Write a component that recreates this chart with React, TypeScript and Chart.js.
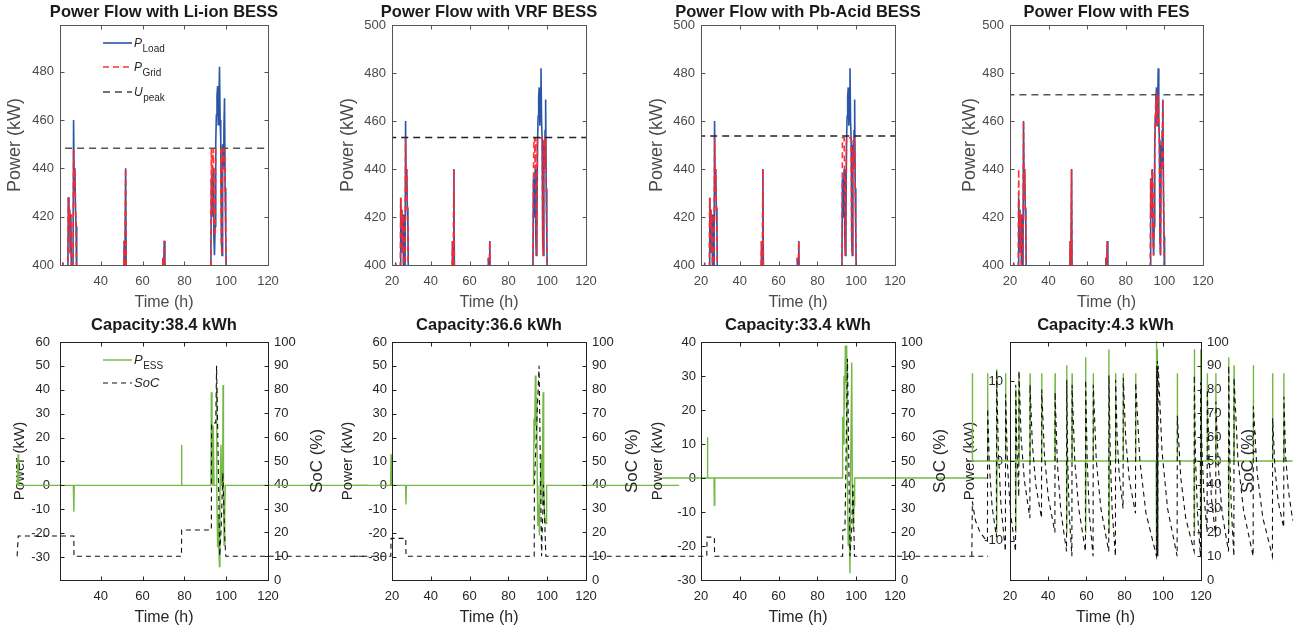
import React, { useEffect, useRef } from "react";
import { Chart, registerables } from "chart.js";

Chart.register(...registerables);

const W = 1304;
const H = 632;
const FONT = '"Liberation Sans", Arial, Helvetica, sans-serif';

// ---------------- DATA ----------------
// Load profile (shared by the four top panels), time in hours, power in kW
const loadTime = [
  0, 21.7, 21.9, 22.1,
  24.2, 24.5, 24.8, 25.1, 25.4, 25.7, 26.0,
  26.7, 27.0, 27.3, 27.6, 27.9, 28.2, 28.5,
  50.9, 51.2, 51.5, 51.9, 52.2,
  69.4, 69.7, 70.0, 70.4, 70.7,
  92.6, 92.9, 93.2, 93.5, 93.8, 94.1, 94.4, 94.7, 95.0, 95.3, 95.6, 95.9, 96.2, 96.5, 96.8, 97.1, 97.4, 97.7, 98.0, 98.3, 98.6, 98.9, 99.2, 99.5, 99.8, 100.1,
  168,
];
const loadPower = [
  390, 390, 401, 390,
  390, 428, 416, 423, 405, 421, 390,
  390, 460, 430, 440, 424, 416, 390,
  390, 410, 395, 440, 390,
  390, 403, 395, 410, 390,
  390, 436, 420, 432, 440, 412, 404, 416, 450, 462, 470, 474, 458, 466, 482, 460, 452, 410, 404, 450, 440, 456, 469, 432, 412, 390,
  390,
];
const gridLiIon = [
  390, 390, 401, 390,
  390, 428, 416, 423, 405, 421, 390,
  390, 448, 430, 440, 424, 416, 390,
  390, 410, 395, 440, 390,
  390, 403, 395, 410, 390,
  390, 448, 420, 440, 448, 416, 412, 416, 448, 448, 448, 448, 448, 448, 448, 448, 448, 410, 404, 448, 440, 448, 448, 432, 412, 390,
  390,
];
const gridVRF = [
  390, 390, 401, 390,
  390, 428, 416, 423, 405, 421, 390,
  390, 453, 430, 440, 424, 416, 390,
  390, 410, 395, 440, 390,
  390, 403, 395, 410, 390,
  390, 436, 453, 453, 440, 453, 404, 416, 453, 453, 453, 453, 453, 453, 453, 453, 452, 410, 404, 453, 440, 453, 453, 432, 412, 390,
  390,
];
const gridPbAcid = [
  390, 390, 401, 390,
  390, 428, 416, 423, 405, 421, 390,
  390, 453, 430, 440, 424, 416, 390,
  390, 410, 395, 440, 390,
  390, 403, 395, 410, 390,
  390, 453, 453, 453, 453, 430, 404, 416, 453, 453, 453, 453, 453, 453, 453, 453, 452, 410, 404, 448, 440, 453, 450, 432, 412, 390,
  390,
];
const gridFES = [
  390, 390, 401, 390,
  390, 440, 416, 423, 405, 421, 390,
  390, 460, 430, 440, 424, 416, 390,
  390, 410, 395, 440, 390,
  390, 403, 395, 410, 390,
  390, 436, 420, 440, 440, 412, 404, 416, 450, 462, 470, 471, 458, 466, 471, 460, 452, 410, 404, 441, 440, 456, 469, 432, 412, 390,
  390,
];
const peakTime = [0, 168];
const peakLiIon = [448.3, 448.3];
const peakVRF = [453.1, 453.1];
const peakPbAcid = [453.7, 453.7];
const peakFES = [470.9, 470.9];

// ESS power (kW) and state of charge (%) as [time h, value]
const essLiIon: [number, number][] = [
  [0, 0], [0.4, 0], [0.5, 13], [0.7, 0], [26.9, 0], [27.1, -11], [27.3, 0], [78.4, 0], [78.6, 17], [78.8, 0],
  [92.7, 0], [92.9, 39], [93.2, 24], [93.5, 0], [93.8, 25], [94.2, 0], [95.2, 0], [95.4, 41], [95.6, 0], [95.9, -26],
  [96.2, -12], [96.5, -26], [96.8, -34], [97.0, -5], [97.5, 17], [97.8, 0], [98.3, 0], [98.5, 42], [98.7, 0], [99.0, -25],
  [99.3, -10], [99.6, 0], [168, 0],
];
const socLiIon: [number, number][] = [
  [0, 10], [0.5, 18.5], [27.1, 18.5], [27.2, 10], [78.6, 10], [78.7, 21], [92.9, 21], [93.0, 66], [95.0, 66], [95.4, 90],
  [96.0, 60], [96.9, 10], [97.6, 22], [98.4, 45], [99.3, 18], [99.8, 10], [168, 10],
];
const essVRF: [number, number][] = [
  [0, 0], [19.3, 0], [19.5, 13], [19.7, 0], [27.0, 0], [27.2, -8], [27.4, 0],
  [93.0, 0], [93.2, 28], [93.5, 18], [93.9, 46], [94.2, 25], [94.6, 37], [94.9, 0], [95.2, -17], [95.6, -8], [96.0, -21],
  [96.4, 0], [97.0, 13], [97.4, -8], [97.9, 39], [98.2, 0], [98.6, -12], [99.0, -16], [99.4, -16], [99.7, 0], [168, 0],
];
const socVRF: [number, number][] = [
  [0, 10], [19.4, 10], [19.5, 17.5], [27.1, 17.5], [27.2, 10], [93.3, 10], [93.4, 40], [95.8, 90], [97.1, 10], [98.1, 40],
  [99.3, 10], [168, 10],
];
const essPbAcid: [number, number][] = [
  [0, 0], [23.1, 0], [23.3, 12], [23.5, 0], [26.7, 0], [26.9, -8], [27.1, 0],
  [92.8, 0], [93.0, 18], [93.3, 10], [93.7, 30], [94.0, 20], [94.4, 39], [94.7, 28], [95.1, 39], [95.4, 0], [95.9, -20],
  [96.3, -12], [96.8, -28], [97.1, 0], [97.7, 34], [98.0, 0], [98.5, -15], [98.9, -8], [99.2, 0], [168, 0],
];
const socPbAcid: [number, number][] = [
  [0, 10], [23.0, 10], [23.1, 18], [26.9, 18], [27.0, 10], [93.0, 10], [93.1, 21], [94.2, 21], [95.5, 93], [96.8, 10],
  [97.6, 20], [98.3, 40], [99.1, 10], [168, 10],
];
const essFES: [number, number][] = [
  [0, 0], [0.2, 0], [0.3, 11], [0.4, 0], [8.2, 0], [8.3, 11], [8.4, 0], [12.9, 0], [13.0, 11.5], [13.1, -9], [13.2, 0],
  [17.6, 0], [17.7, 11], [17.8, 0], [22.9, 0], [23.0, 9], [23.1, -9], [23.2, 0], [24.6, 0], [24.7, 11], [24.8, 0],
  [30.4, 0], [30.5, 11], [30.6, 0], [36.5, 0], [36.6, 11], [36.7, 0], [43.5, 0], [43.6, 11], [43.7, 0],
  [49.6, 0], [49.7, 12], [49.8, -9], [49.9, 0], [52.4, 0], [52.5, 11], [52.6, 0], [59.5, 0], [59.6, 13], [59.7, -9], [59.8, 0],
  [63.5, 0], [63.6, 11], [63.7, 0], [71.7, 0], [71.8, 14], [71.9, -9], [72.0, 0], [75.2, 0], [75.3, 11], [75.4, 0],
  [79.2, 0], [79.3, 11], [79.4, 0], [85.7, 0], [85.8, 11], [85.9, 0], [96.5, 0], [96.6, 12], [96.7, -12], [96.8, 15],
  [96.9, -12], [97.0, 14], [97.1, -10], [97.2, 0], [107.5, 0], [107.6, 11], [107.7, 0], [116.4, 0], [116.5, 14], [116.6, -9], [116.7, 0],
  [119.7, 0], [119.8, 14], [119.9, -9], [120.0, 0], [123.2, 0], [123.3, 11], [123.4, 0], [127.7, 0], [127.8, 11], [127.9, 0],
  [134.4, 0], [134.5, 13], [134.6, -9], [134.7, 0], [137.2, 0], [137.3, 12], [137.4, 0], [147.3, 0], [147.4, 12], [147.5, 0],
  [157.4, 0], [157.5, 11], [157.6, 0], [163.3, 0], [163.4, 11], [163.5, 0], [168, 0],
];
const socFES: [number, number][] = [
  [0, 10], [0.3, 33], [1.9, 25], [4.3, 20], [8.2, 16],
  [8.3, 72], [9.2, 48], [10.6, 31], [12.9, 18],
  [13.0, 88], [13.9, 54], [15.3, 31], [17.6, 12],
  [17.7, 78], [18.7, 48], [20.3, 28], [22.9, 12],
  [23.0, 82], [23.5, 58], [24.6, 35],
  [24.7, 88], [25.8, 60], [27.5, 42], [30.4, 26],
  [30.5, 82], [31.7, 57], [33.5, 40], [36.5, 26],
  [36.6, 80], [38.0, 53], [40.0, 35], [43.5, 20],
  [43.6, 79], [44.8, 49], [46.6, 29], [49.6, 12],
  [49.7, 84], [50.2, 50], [51.0, 28], [52.4, 10],
  [52.5, 82], [53.9, 50], [56.0, 30], [59.5, 12],
  [59.6, 84], [60.4, 51], [61.5, 28], [63.5, 10],
  [63.6, 82], [65.2, 50], [67.6, 30], [71.7, 12],
  [71.8, 86], [72.5, 52], [73.5, 29], [75.2, 10],
  [75.3, 84], [76.1, 60], [77.2, 44], [79.2, 30],
  [79.3, 85], [80.6, 59], [82.5, 42], [85.7, 28],
  [85.8, 83], [88.0, 50], [91.2, 28], [96.7, 10],
  [96.8, 90], [97.0, 10], [97.2, 92], [97.4, 10], [97.6, 90], [99.6, 54], [102.5, 30], [107.5, 10],
  [107.6, 69], [109.4, 43], [112.0, 26], [116.4, 12],
  [116.5, 86], [117.1, 52], [118.1, 29], [119.7, 10],
  [119.8, 83], [120.5, 55], [121.5, 36], [123.2, 20],
  [123.3, 80], [124.2, 52], [125.5, 34], [127.7, 18],
  [127.8, 75], [129.1, 47], [131.1, 28], [134.4, 12],
  [134.5, 90], [135.0, 54], [135.9, 30], [137.2, 10],
  [137.3, 85], [139.3, 51], [142.3, 29], [147.3, 10],
  [147.4, 73], [149.4, 45], [152.4, 26], [157.4, 10],
  [157.5, 68], [158.7, 47], [160.4, 33], [163.3, 22],
  [163.4, 77], [164.3, 52], [165.7, 38], [168, 25],
];

const topTitles = ["Power Flow with Li-ion BESS", "Power Flow with VRF BESS", "Power Flow with Pb-Acid BESS", "Power Flow with FES"];
const bottomTitles = ["Capacity:38.4 kWh", "Capacity:36.6 kWh", "Capacity:33.4 kWh", "Capacity:4.3 kWh"];

// ---------------- HELPERS ----------------
const zip = (xs: number[], ys: number[]) => xs.map((x, i) => ({ x, y: ys[i] }));
// A trailing gap point marks the data as unsorted, so Chart.js draws every point
// (MATLAB-style unclipped lines that run past the axes limits).
const fromPairs = (p: [number, number][]) => [...p.map(([x, y]) => ({ x, y })), { x: null, y: null }];

const BLUE = "#2a55a9";
const RED = "rgba(255,40,40,0.95)";
const GREEN = "#74b944";

const decorPlugin = {
  id: "mlDecor",
  afterDatasetsDraw(chart: any, _a: any, opts: any) {
    const { ctx, chartArea: a, scales } = chart;
    ctx.save();
    ctx.setLineDash([]);
    ctx.lineWidth = 1;
    ctx.strokeStyle = opts.boxColor;
    const L = Math.round(a.left) + 0.5, R = Math.round(a.right) + 0.5;
    const T = Math.round(a.top) + 0.5, B = Math.round(a.bottom) + 0.5;
    ctx.strokeRect(L, T, R - L, B - T);
    const tl = 4;
    ctx.beginPath();
    for (const t of scales.x.ticks) {
      const px = Math.round(scales.x.getPixelForValue(t.value)) + 0.5;
      ctx.moveTo(px, B); ctx.lineTo(px, B - tl);
      ctx.moveTo(px, T); ctx.lineTo(px, T + tl);
    }
    for (const t of scales.y.ticks) {
      const py = Math.round(scales.y.getPixelForValue(t.value)) + 0.5;
      ctx.moveTo(L, py); ctx.lineTo(L + tl, py);
      if (opts.mirrorY) { ctx.moveTo(R, py); ctx.lineTo(R - tl, py); }
    }
    if (scales.y1) {
      for (const t of scales.y1.ticks) {
        const py = Math.round(scales.y1.getPixelForValue(t.value)) + 0.5;
        ctx.moveTo(R, py); ctx.lineTo(R - tl, py);
      }
    }
    ctx.stroke();

    // panel title (allowed to be wider than the axes, like MATLAB)
    ctx.font = `bold 16.5px ${FONT}`;
    ctx.fillStyle = "#1a1a1a";
    ctx.textAlign = "center";
    ctx.textBaseline = "middle";
    ctx.fillText(opts.title, (a.left + a.right) / 2, a.top - opts.titleDy);

    if (opts.rightTitle) {
      ctx.save();
      ctx.translate(a.right + opts.rightTitle.dx, (a.top + a.bottom) / 2);
      ctx.rotate(-Math.PI / 2);
      ctx.font = `${opts.rightTitle.size}px ${FONT}`;
      ctx.fillStyle = "#262626";
      ctx.textAlign = "center";
      ctx.textBaseline = "middle";
      ctx.fillText(opts.rightTitle.text, 0, 0);
      ctx.restore();
    }

    if (opts.legend) {
      const lg = opts.legend;
      for (const it of lg.items) {
        const y = a.top + it.dy;
        ctx.strokeStyle = it.color;
        ctx.lineWidth = it.width;
        ctx.setLineDash(it.dash || []);
        ctx.beginPath();
        ctx.moveTo(a.left + lg.x1, y);
        ctx.lineTo(a.left + lg.x2, y);
        ctx.stroke();
        ctx.setLineDash([]);
        ctx.fillStyle = "#262626";
        ctx.textAlign = "left";
        ctx.textBaseline = "alphabetic";
        ctx.font = `italic ${lg.mainSize}px ${FONT}`;
        let x = a.left + lg.tx;
        ctx.fillText(it.main, x, y + lg.mainDy);
        x += ctx.measureText(it.main).width + 0.5;
        if (it.sub) {
          ctx.font = `${lg.subSize}px ${FONT}`;
          ctx.fillText(it.sub, x, y + lg.subDy);
        }
      }
    }
    ctx.restore();
  },
};

type Panel = {
  row: "top" | "bottom";
  title: string;
  area: { l: number; r: number; t: number; b: number };
  xMin: number;
  yMin: number;
  yMax: number;
  leftW: number;
  yPad: number;
  datasets: any[];
  legend?: any;
  rightDx?: number;
};

const X_H = 47;
const RIGHT_W = 40;

function makeConfig(p: Panel): any {
  const top = p.row === "top";
  const tickColor = top ? "#4a4a4a" : "#262626";
  const rightW = top ? 0 : RIGHT_W;
  const scales: any = {
    x: {
      type: "linear",
      min: p.xMin,
      max: 120,
      ticks: { stepSize: 20, includeBounds: false, autoSkip: false, maxRotation: 0, color: tickColor, padding: 9, font: { family: FONT, size: 13 } },
      grid: { display: false, drawTicks: false },
      border: { display: false },
      title: { display: true, text: "Time (h)", color: tickColor, padding: 0, font: { family: FONT, size: 16 } },
      afterFit: (s: any) => { s.height = X_H; },
    },
    y: {
      type: "linear",
      position: "left",
      min: p.yMin,
      max: p.yMax,
      ticks: { stepSize: top ? 20 : 10, includeBounds: false, autoSkip: false, color: tickColor, padding: p.yPad, font: { family: FONT, size: 13 } },
      grid: { display: false, drawTicks: false },
      border: { display: false },
      title: { display: true, text: "Power (kW)", color: tickColor, padding: 0, font: { family: FONT, size: top ? 18 : 15 } },
      afterFit: (s: any) => { s.width = p.leftW; },
    },
  };
  if (!top) {
    scales.y1 = {
      type: "linear",
      position: "right",
      min: 0,
      max: 100,
      ticks: { stepSize: 10, includeBounds: false, autoSkip: false, color: "#262626", padding: 6, font: { family: FONT, size: 13 } },
      grid: { display: false, drawTicks: false },
      border: { display: false },
      title: { display: false },
      afterFit: (s: any) => { s.width = RIGHT_W; },
    };
  }
  return {
    type: "line",
    data: { datasets: p.datasets },
    plugins: [decorPlugin],
    options: {
      animation: false,
      responsive: false,
      events: [],
      layout: {
        padding: {
          left: p.area.l - p.leftW,
          right: W - p.area.r - rightW,
          top: p.area.t,
          bottom: H - p.area.b - X_H,
        },
      },
      elements: { point: { radius: 0 }, line: { tension: 0 } },
      scales,
      plugins: {
        legend: { display: false },
        tooltip: { enabled: false },
        title: { display: false },
        mlDecor: {
          title: p.title,
          titleDy: top ? 13 : 17,
          boxColor: top ? "#555" : "#222",
          mirrorY: top,
          rightTitle: top ? null : { text: "SoC (%)", dx: p.rightDx, size: 17 },
          legend: p.legend || null,
        },
      },
    },
  };
}

function topDatasets(grid: number[], peak: number[], peakColor: string) {
  return [
    { label: "Upeak", data: zip(peakTime, peak), borderColor: peakColor, borderDash: [7, 5], borderWidth: 1.5, fill: false },
    { label: "PGrid", data: zip(loadTime, grid), borderColor: RED, borderDash: [6, 4], borderWidth: 1.6, fill: false },
    { label: "PLoad", data: zip(loadTime, loadPower), borderColor: BLUE, borderWidth: 1.6, fill: false },
  ];
}
function bottomDatasets(ess: [number, number][], soc: [number, number][]) {
  return [
    { label: "SoC", yAxisID: "y1", data: fromPairs(soc), borderColor: "#111", borderDash: [5, 4], borderWidth: 1.1, fill: false, clip: false },
    { label: "PESS", yAxisID: "y", data: fromPairs(ess), borderColor: GREEN, borderWidth: 1.4, fill: false, clip: false },
  ];
}

const topLegend = {
  x1: 43, x2: 72, tx: 74, mainSize: 12, subSize: 10, mainDy: 4, subDy: 9,
  items: [
    { dy: 18, color: BLUE, width: 1.6, main: "P", sub: "Load" },
    { dy: 42, color: RED, width: 1.6, dash: [6, 4], main: "P", sub: "Grid" },
    { dy: 67, color: "#444", width: 1.5, dash: [7, 5], main: "U", sub: "peak" },
  ],
};
const bottomLegend = {
  x1: 43, x2: 72, tx: 74, mainSize: 13, subSize: 10, mainDy: 4, subDy: 9,
  items: [
    { dy: 18, color: GREEN, width: 1.4, main: "P", sub: "ESS" },
    { dy: 41, color: "#111", width: 1.1, dash: [5, 4], main: "SoC", sub: "" },
  ],
};

const panels: Panel[] = [
  { row: "top", title: topTitles[0], area: { l: 60, r: 268, t: 25, b: 265 }, xMin: 20.5, yMin: 400, yMax: 499.3, leftW: 56, yPad: 6, datasets: topDatasets(gridLiIon, peakLiIon, "#555"), legend: topLegend },
  { row: "top", title: topTitles[1], area: { l: 392, r: 586, t: 25, b: 265 }, xMin: 20, yMin: 400, yMax: 500, leftW: 55, yPad: 6, datasets: topDatasets(gridVRF, peakVRF, "#222") },
  { row: "top", title: topTitles[2], area: { l: 701, r: 895, t: 25, b: 265 }, xMin: 20, yMin: 400, yMax: 500, leftW: 55, yPad: 6, datasets: topDatasets(gridPbAcid, peakPbAcid, "#222") },
  { row: "top", title: topTitles[3], area: { l: 1010, r: 1203, t: 25, b: 265 }, xMin: 20, yMin: 400, yMax: 500, leftW: 51, yPad: 6, datasets: topDatasets(gridFES, peakFES, "#555") },
  { row: "bottom", title: bottomTitles[0], area: { l: 60, r: 268, t: 342, b: 580 }, xMin: 20.5, yMin: -39.6, yMax: 60, leftW: 49, yPad: 10, rightDx: 49, datasets: bottomDatasets(essLiIon, socLiIon), legend: bottomLegend },
  { row: "bottom", title: bottomTitles[1], area: { l: 392, r: 586, t: 342, b: 580 }, xMin: 20, yMin: -39.6, yMax: 60, leftW: 53, yPad: 5, rightDx: 46, datasets: bottomDatasets(essVRF, socVRF) },
  { row: "bottom", title: bottomTitles[2], area: { l: 701, r: 895, t: 342, b: 580 }, xMin: 20, yMin: -30, yMax: 40, leftW: 52, yPad: 5, rightDx: 45, datasets: bottomDatasets(essPbAcid, socPbAcid) },
  { row: "bottom", title: bottomTitles[3], area: { l: 1010, r: 1201, t: 342, b: 580 }, xMin: 20, yMin: -14.9, yMax: 14.9, leftW: 49, yPad: 7, rightDx: 47, datasets: bottomDatasets(essFES, socFES) },
];

function PanelCanvas({ panel }: { panel: Panel }) {
  const ref = useRef<HTMLCanvasElement>(null);
  useEffect(() => {
    if (!ref.current) return;
    const chart = new Chart(ref.current, makeConfig(panel));
    return () => chart.destroy();
  }, [panel]);
  return (
    <canvas
      ref={ref}
      width={W}
      height={H}
      style={{ position: "absolute", left: 0, top: 0, width: W, height: H }}
    />
  );
}

export default function App() {
  return (
    <div style={{ position: "fixed", left: 0, top: 0, width: W, height: H, background: "#fff", overflow: "hidden" }}>
      {panels.map((p, i) => (
        <PanelCanvas key={i} panel={p} />
      ))}
    </div>
  );
}
